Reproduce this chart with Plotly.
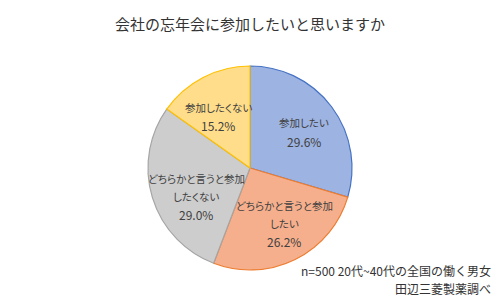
import plotly.graph_objects as go

labels = ["参加したい", "どちらかと言うと参加したい", "どちらかと言うと参加したくない", "参加したくない"]
label_lines = [["参加したい"], ["どちらかと言うと参加", "したい"], ["どちらかと言うと参加", "したくない"], ["参加したくない"]]
values = [29.6, 26.2, 29.0, 15.2]

title = "会社の忘年会に参加したいと思いますか"
note1 = "n=500 20代~40代の全国の働く男女"
note2 = "田辺三菱製薬調べ"

# styles
fill_colors = ["#9db3e2", "#f6af8c", "#cdcdcd", "#ffdd8a"]
line_colors = ["#4472c4", "#ed7d31", "#a5a5a5", "#ffc000"]
font = "Noto Sans CJK JP"
W, H = 500, 300
# label block placement (pixel x of center, pixel y of first line), line step
label_pos = [(304, 123), (284, 205), (196, 178), (218, 107)]
line_step = 18

fig = go.Figure(go.Pie(
    labels=labels,
    values=values,
    textinfo="none",
    sort=False,
    direction="clockwise",
    rotation=0,
    marker=dict(colors=fill_colors, line=dict(color=line_colors, width=1.2)),
    domain=dict(x=[0.296, 0.704], y=[0.1, 0.78]),
    showlegend=False,
    hoverinfo="label+percent",
))

anns = [
    dict(text=title, x=0.5, y=1 - 23 / H, showarrow=False,
         font=dict(family=font, size=15, color="#333333"), xanchor="center", yanchor="middle"),
    dict(text=note1, x=493 / W, y=1 - 270 / H, showarrow=False,
         font=dict(family=font, size=12, color="#333333"), xanchor="right", yanchor="middle"),
    dict(text=note2, x=493 / W, y=1 - 288 / H, showarrow=False,
         font=dict(family=font, size=12, color="#333333"), xanchor="right", yanchor="middle"),
]

for lines, v, (px, py) in zip(label_lines, values, label_pos):
    all_lines = [(f"<span style=\"font-feature-settings:'palt'\">{ln}</span>", 10.5) for ln in lines]
    all_lines.append((f"{v:.1f}%", 12))
    for i, (ln, sz) in enumerate(all_lines):
        anns.append(dict(text=ln, x=px / W, y=1 - (py + i * line_step) / H, showarrow=False,
                         font=dict(family=font, size=sz, color="#404040"),
                         xanchor="center", yanchor="middle"))

fig.update_layout(
    width=W, height=H,
    margin=dict(l=0, r=0, t=0, b=0),
    paper_bgcolor="white",
    plot_bgcolor="white",
    annotations=[dict(a, xref="paper", yref="paper") for a in anns],
)

fig.write_html("out.html")
